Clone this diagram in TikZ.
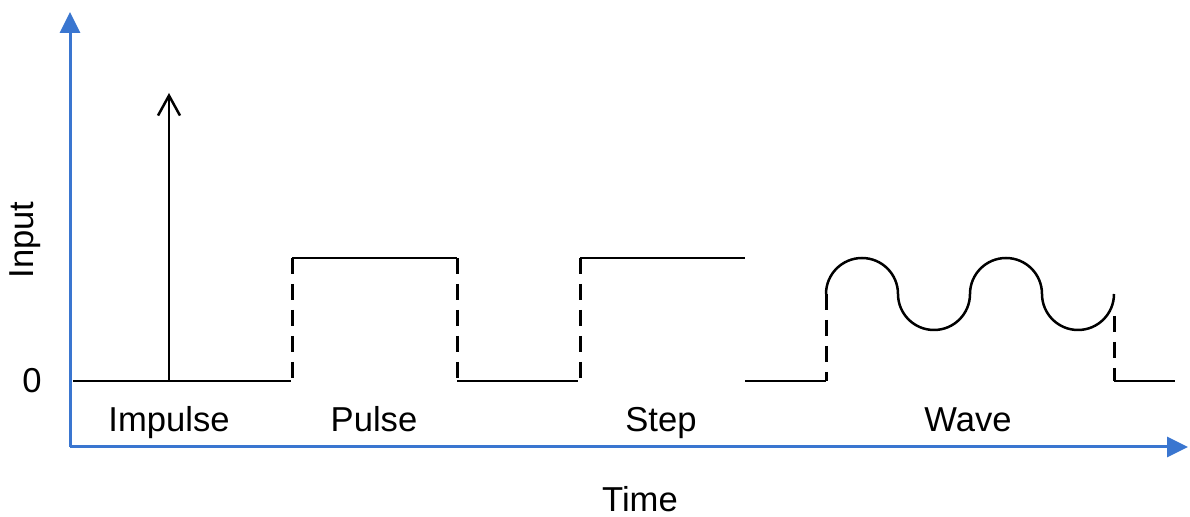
\documentclass[tikz,border=0pt]{standalone}
\usepackage{fontspec}
\setmainfont{Liberation Sans}
\usetikzlibrary{arrows.meta}
\definecolor{axisblue}{RGB}{58,118,208}
\begin{document}
\begin{tikzpicture}[x=0.5pt,y=-0.5pt,
  axis/.style={draw=axisblue,line width=1.5pt,-{Triangle[length=10.5pt,width=10pt]}},
  signal/.style={draw=black,line width=1.25pt},
  jump/.style={draw=black,line width=1.5pt,dash pattern=on 8pt off 5pt},
  lbl/.style={font=\fontsize{17.3pt}{20pt}\selectfont,inner sep=0pt,anchor=base}]
\useasboundingbox (0,0) rectangle (1190,517);

% axes
\coordinate (O) at (70,447);
\coordinate (ytop) at (70,12);
\coordinate (xend) at (1188,447);
\draw[axis] (O) -- (ytop);
\draw[axis] (O) -- (xend);

% impulse
\coordinate (i0) at (73,381);
\coordinate (i1) at (169,381);
\coordinate (itip) at (169,93);
\coordinate (i2) at (291,381);
\draw[signal] (i0) -- (i2);
\draw[signal,-{Straight Barb[length=10pt,width=11pt]}] (i1) -- (itip);

% pulse
\coordinate (p0) at (292,381);
\coordinate (p1) at (292,258);
\coordinate (p2) at (457,258);
\coordinate (p3) at (457,381);
\coordinate (p4) at (578,381);
\draw[jump] (p1) -- (p0);
\draw[signal] (p1) -- (p2);
\draw[jump] (p2) -- (p3);
\draw[signal] (p3) -- (p4);

% step
\coordinate (s0) at (580,381);
\coordinate (s1) at (580,258);
\coordinate (s2) at (745,258);
\draw[jump] (s1) -- (s0);
\draw[signal] (s1) -- (s2);

% wave (y axis points down, so the arc angles are mirrored)
\coordinate (w0) at (745,381);
\coordinate (w1) at (826,381);
\coordinate (w2) at (826,294);
\coordinate (w3) at (1114,294);
\coordinate (w4) at (1114,381);
\coordinate (w5) at (1175,381);
\draw[signal] (w0) -- (w1);
\draw[jump] (w2) -- (w1);
\draw[signal] (w2) arc[start angle=180,end angle=360,radius=36]
  arc[start angle=180,end angle=0,radius=36]
  arc[start angle=180,end angle=360,radius=36]
  arc[start angle=180,end angle=0,radius=36];
\draw[jump] (w3) ++(0,22) -- (w4);
\draw[signal] (w4) -- (w5);

% labels
\node[lbl] (limp) at (169,432) {Impulse};
\node[lbl] (lpulse) at (374,432) {Pulse};
\node[lbl] (lstep) at (661,432) {Step};
\node[lbl] (lwave) at (968,432) {Wave};
\node[lbl] (ltime) at (640,512) {Time};
\node[lbl,anchor=center,rotate=90] (linput) at (25,240) {Input};
\node[lbl] (lzero) at (32,393) {0};
\end{tikzpicture}
\end{document}
